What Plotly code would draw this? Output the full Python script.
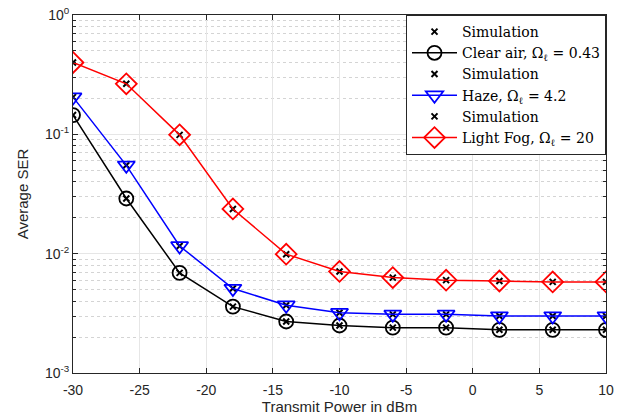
import plotly.graph_objects as go

# Transmit power sweep (dBm)
power_dbm = [-30, -26, -22, -18, -14, -10, -6, -2, 2, 6, 10]

# Average SER per weather condition
ser_clear = [0.145, 0.029, 0.0069, 0.0036, 0.0027, 0.0025, 0.0024, 0.0024, 0.0023, 0.0023, 0.0023]
ser_haze = [0.205, 0.055, 0.0116, 0.0051, 0.0037, 0.0032, 0.0031, 0.0031, 0.0030, 0.0030, 0.0030]
ser_fog = [0.40, 0.265, 0.099, 0.0237, 0.0099, 0.0071, 0.0063, 0.0060, 0.0059, 0.0058, 0.0058]

labels = [
    "Clear air, Ω<sub>ℓ</sub> = 0.43",
    "Haze, Ω<sub>ℓ</sub> = 4.2",
    "Light Fog, Ω<sub>ℓ</sub> = 20",
]

x_ticks = [-30, -25, -20, -15, -10, -5, 0, 5, 10]
x_tick_text = ["-30", "-25", "-20", "-15", "-10", "-5", "0", "5", "10"]
y_ticks = [1e-3, 1e-2, 1e-1, 1e0]
y_tick_text = ["10<sup>-3</sup>", "10<sup>-2</sup>", "10<sup>-1</sup>", "10<sup>0</sup>"]

styles = [
    dict(color="black", symbol="circle-open", size=14),
    dict(color="#0000ff", symbol="triangle-down-open", size=15),
    dict(color="#ff0000", symbol="diamond-open", size=16),
]

fig = go.Figure()
for ser, label, st in zip([ser_clear, ser_haze, ser_fog], labels, styles):
    fig.add_trace(go.Scatter(
        x=power_dbm, y=ser, mode="markers", name="Simulation",
        marker=dict(symbol="x-thin", size=6, line=dict(color="black", width=2)),
    ))
    fig.add_trace(go.Scatter(
        x=power_dbm, y=ser, mode="lines+markers", name=label,
        line=dict(color=st["color"], width=1.5),
        marker=dict(symbol=st["symbol"], size=st["size"], color=st["color"],
                    line=dict(color=st["color"], width=1.8)),
    ))

axis_common = dict(
    showline=True, linecolor="#262626", linewidth=1, mirror="allticks",
    ticks="inside", ticklen=5, tickcolor="#262626", automargin=False,
    showgrid=True, gridcolor="#e6e6e6", gridwidth=1, zeroline=False,
    tickfont=dict(family="Liberation Sans, Arial", size=14, color="#262626"),
)

fig.update_xaxes(
    range=[-30, 10], tickvals=x_ticks, ticktext=x_tick_text, ticklabelstandoff=4,
    title=dict(text="Transmit Power in dBm", font=dict(family="Liberation Sans, Arial", size=15, color="#262626"), standoff=4),
    **axis_common,
)
fig.update_yaxes(
    type="log", range=[-3, 0], tickvals=y_ticks, ticktext=y_tick_text,
    title=dict(text="Average SER", font=dict(family="Liberation Sans, Arial", size=15, color="#262626"), standoff=12),
    minor=dict(dtick="D1", ticks="inside", ticklen=3, tickcolor="#262626",
               showgrid=True, gridcolor="#d4d4d4", griddash="dot", gridwidth=1),
    **axis_common,
)

fig.update_layout(
    width=626, height=420,
    margin=dict(l=73, r=20, t=15, b=47),
    plot_bgcolor="white", paper_bgcolor="white",
    legend=dict(
        x=1, y=1, xanchor="right", yanchor="top",
        bgcolor="white", bordercolor="#262626", borderwidth=1,
        font=dict(family="DejaVu Serif, Liberation Serif", size=14, color="black"),
        tracegroupgap=0, itemwidth=45,
    ),
)

fig.write_html("out.html")
